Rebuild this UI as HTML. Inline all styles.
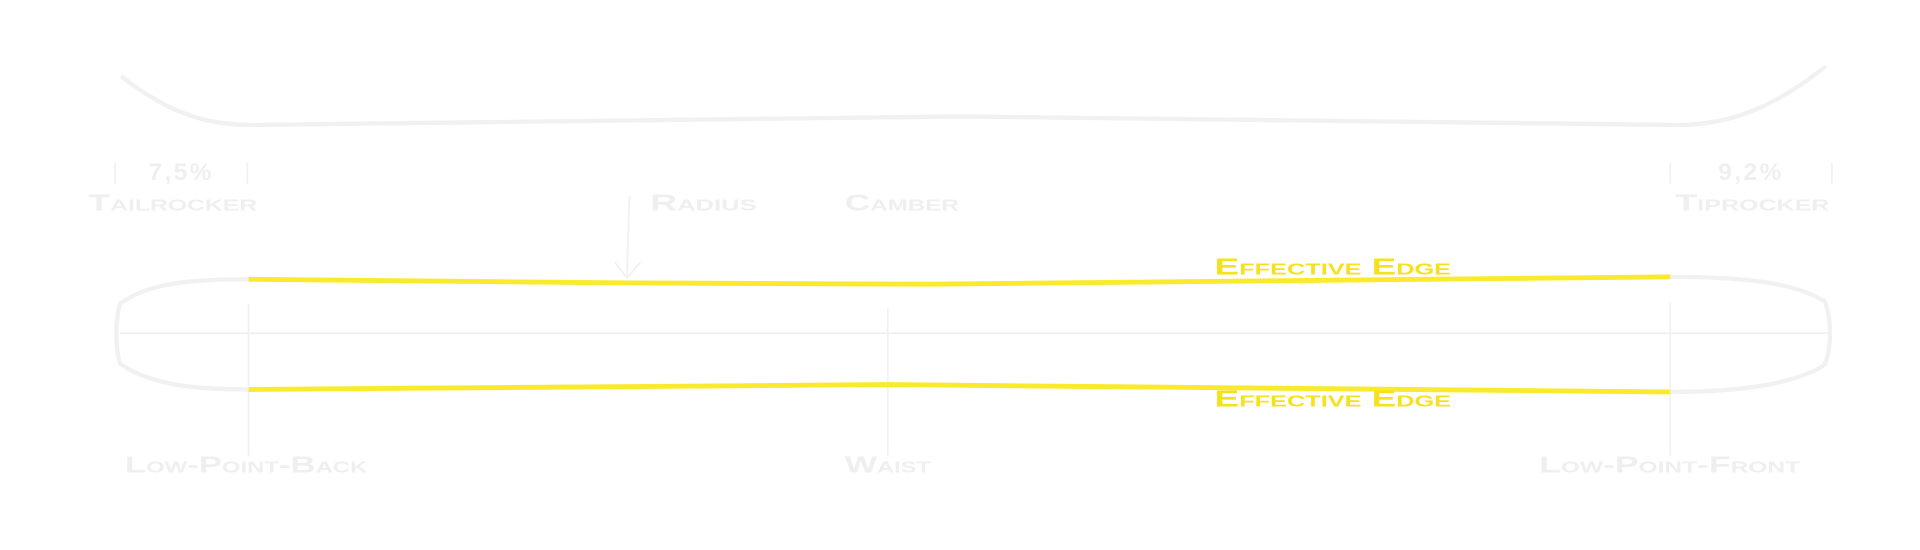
<!DOCTYPE html>
<html><head><style>html,body{margin:0;padding:0;background:#fff;}svg{display:block}</style></head>
<body>
<svg width="1920" height="550" viewBox="0 0 1568 449" xmlns="http://www.w3.org/2000/svg" font-family="Liberation Sans, sans-serif">
<g fill="none" stroke="#f1f1f1" stroke-width="3.5" stroke-linecap="round">
<path d="M100 63 C135 90 165 102 205 102 L785 95 L1370 102 C1420 102 1455 82 1490 55"/>
<path d="M203 228 C150 228 120 232 98 248 C94 262 94 284 98 297 C120 312 150 318 203 318"/>
<path d="M1364 226 C1420 226 1465 230 1490 246 C1496 260 1496 284 1490 298 C1465 314 1420 320 1364 320"/>
</g>
<g stroke="#f1f1f1" stroke-width="1.5" fill="none">
<line x1="98" y1="272" x2="1495" y2="272"/>
<line x1="203" y1="248" x2="203" y2="372"/>
<line x1="725" y1="252" x2="725" y2="372"/>
<line x1="1364" y1="247" x2="1364" y2="372"/>
<line x1="94" y1="133" x2="94" y2="150"/>
<line x1="202" y1="133" x2="202" y2="150"/>
<line x1="1364" y1="133" x2="1364" y2="150"/>
<line x1="1496" y1="133" x2="1496" y2="150"/>
<line x1="514" y1="160" x2="512" y2="227"/>
<polyline points="502,214 512,227 523,214"/>
</g>
<g fill="none" stroke="#f9ea2e" stroke-width="4">
<path d="M203 228 L514 231 L760 232 L1364 226"/>
<path d="M203 318 L725 314 L1364 320"/>
</g>
<g fill="#efefef" font-weight="bold" style="font-variant:small-caps">
<text x="148" y="147" font-size="20" text-anchor="middle" letter-spacing="2">7,5%</text>
<text x="1430" y="147" font-size="20" text-anchor="middle" letter-spacing="2">9,2%</text>
<text x="72" y="172" font-size="19" textLength="138" lengthAdjust="spacingAndGlyphs">Tailrocker</text>
<text x="1368" y="172" font-size="19" textLength="126" lengthAdjust="spacingAndGlyphs">Tiprocker</text>
<text x="531" y="172" font-size="19" textLength="87" lengthAdjust="spacingAndGlyphs">Radius</text>
<text x="690" y="172" font-size="19" textLength="93" lengthAdjust="spacingAndGlyphs">Camber</text>
<text x="102" y="386" font-size="19" textLength="198" lengthAdjust="spacingAndGlyphs">Low-Point-Back</text>
<text x="690" y="386" font-size="19" textLength="70" lengthAdjust="spacingAndGlyphs">Waist</text>
<text x="1257" y="386" font-size="19" textLength="213" lengthAdjust="spacingAndGlyphs">Low-Point-Front</text>
</g>
<g fill="#f5e21e" font-weight="bold" style="font-variant:small-caps">
<text x="992" y="224" font-size="19" textLength="193" lengthAdjust="spacingAndGlyphs">Effective Edge</text>
<text x="992" y="332" font-size="19" textLength="193" lengthAdjust="spacingAndGlyphs">Effective Edge</text>
</g>
</svg>
</body></html>
